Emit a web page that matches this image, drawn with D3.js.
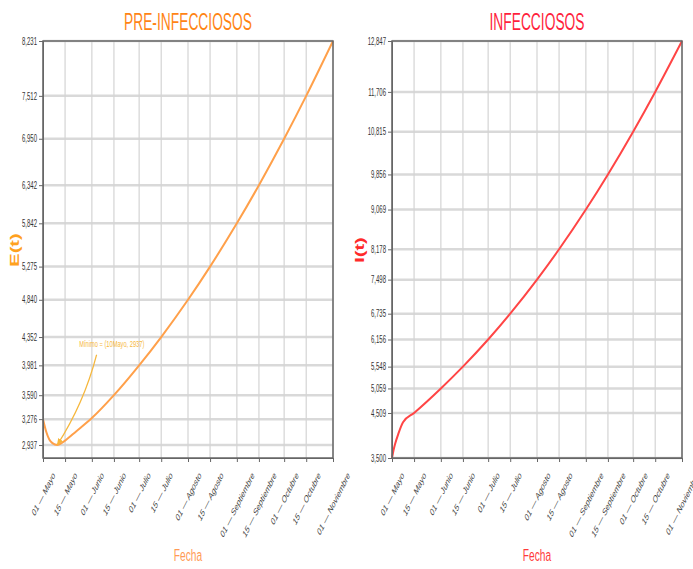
<!DOCTYPE html>
<html>
<head>
<meta charset="utf-8">
<script src="https://cdn.jsdelivr.net/npm/d3@7"></script>
<style>
  body { margin: 0; background: #fff; }
  text { font-family: "Liberation Sans", Arial, sans-serif; }
</style>
</head>
<body>
<svg id="plot"></svg>
<script>
// Fechas y etiquetas del eje x
var fechasTicks = ["2020-05-01","2020-05-15","2020-06-01","2020-06-15","2020-07-01","2020-07-15","2020-08-01","2020-08-15","2020-09-01","2020-09-15","2020-10-01","2020-10-15","2020-11-01"];
var etiquetasTicks = ["01 — Mayo","15 — Mayo","01 — Junio","15 — Junio","01 — Julio","15 — Julio","01 — Agosto","15 — Agosto","01 — Septiembre","15 — Septiembre","01 — Octubre","15 — Octubre","01 — Noviembre"];

// E(t): pre-infecciosos
var fechasE = ["2020-05-01","2020-05-03","2020-05-05","2020-05-07","2020-05-10","2020-05-12","2020-05-15","2020-05-22","2020-06-01","2020-06-15","2020-07-01","2020-07-15","2020-08-01","2020-08-15","2020-09-01","2020-09-15","2020-10-01","2020-10-15","2020-11-01"];
var valoresE = [3276,3115,3010,2962,2937,2952,2995,3115,3290,3590,3981,4352,4840,5275,5842,6342,6950,7512,8231];
var ticksE = [2937,3276,3590,3981,4352,4840,5275,5842,6342,6950,7512,8231];

// I(t): infecciosos
var fechasI = ["2020-05-01","2020-05-02","2020-05-03","2020-05-05","2020-05-08","2020-05-15","2020-06-01","2020-06-15","2020-07-01","2020-07-15","2020-08-01","2020-08-15","2020-09-01","2020-09-15","2020-10-01","2020-10-15","2020-11-01"];
var valoresI = [3500,3680,3820,4040,4300,4509,5059,5548,6156,6735,7498,8178,9069,9856,10815,11706,12847];
var ticksI = [3500,4509,5059,5548,6156,6735,7498,8178,9069,9856,10815,11706,12847];

// Anotacion del minimo
var minimo = { fecha: "2020-05-10", valor: 2937, texto: "Mínimo = (10Mayo, 2937)" };
var minimoTexto = { fecha: "2020-05-24", valor: 4225 };
var minimoFlecha = { fecha: "2020-06-04", valor: 4120 };

var width = 693, height = 569;
var top0 = 41, bottom0 = 458;
var k = 0.6; // texto comprimido horizontalmente
var parse = d3.utcParse("%Y-%m-%d");

var svg = d3.select('#plot')
  .attr('width', width)
  .attr('height', height);

var defs = svg.append('defs');
defs.append('marker')
  .attr('id', 'punta')
  .attr('viewBox', '0 0 10 10')
  .attr('refX', 9).attr('refY', 5)
  .attr('markerWidth', 6).attr('markerHeight', 6)
  .attr('orient', 'auto')
  .append('path')
  .attr('d', 'M0,1 L10,5 L0,9 Z')
  .attr('fill', '#f6b73c');

function narrow(sel, x, y) {
  sel.attr('transform', 'translate(' + x + ',' + y + ') scale(' + k + ',1)');
}

function panel(cfg) {
  var g = svg.append('g');

  var x = d3.scaleUtc()
    .domain([parse(fechasTicks[0]), parse(fechasTicks[fechasTicks.length - 1])])
    .range([cfg.left, cfg.right]);

  var y = d3.scaleLinear()
    .domain(cfg.domain)
    .range([bottom0, top0]);

  // Grid horizontal
  g.selectAll('.gh')
    .data(cfg.ticks)
    .enter().append('line')
      .attr('x1', cfg.left).attr('x2', cfg.right)
      .attr('y1', d => y(d)).attr('y2', d => y(d))
      .attr('stroke', '#d9d9d9')
      .attr('stroke-width', 2.5);

  // Grid vertical
  g.selectAll('.gv')
    .data(fechasTicks)
    .enter().append('line')
      .attr('x1', d => x(parse(d))).attr('x2', d => x(parse(d)))
      .attr('y1', top0).attr('y2', bottom0)
      .attr('stroke', '#d4d4d4')
      .attr('stroke-width', 1.2);

  // Curva
  var line = d3.line()
    .x((d, i) => x(parse(d)))
    .y((d, i) => y(cfg.values[i]))
    .curve(d3.curveMonotoneX);

  g.append('path')
    .attr('d', line(cfg.dates))
    .attr('fill', 'none')
    .attr('stroke', cfg.lineColor)
    .attr('stroke-width', 2);

  // Marco
  g.append('rect')
    .attr('x', cfg.left).attr('y', top0)
    .attr('width', cfg.right - cfg.left)
    .attr('height', bottom0 - top0)
    .attr('fill', 'none')
    .attr('stroke', '#666')
    .attr('stroke-width', 1.5);

  // Eje Y
  var ay = g.append('g')
    .attr('transform', 'translate(' + cfg.left + ',0)')
    .call(d3.axisLeft(y).tickValues(cfg.ticks).tickFormat(d3.format(',')).tickSize(4).tickSizeOuter(0));
  ay.select('.domain').attr('stroke', '#666');
  ay.selectAll('line').attr('stroke', '#666');
  ay.selectAll('text')
    .attr('x', -6 / k)
    .attr('transform', 'scale(' + k + ',1)')
    .style('font-size', '10px')
    .attr('fill', '#333');

  // Eje X
  var ax = g.append('g')
    .attr('transform', 'translate(0,' + bottom0 + ')')
    .call(d3.axisBottom(x).tickValues(fechasTicks.map(parse)).tickFormat((d, i) => etiquetasTicks[i]).tickSize(4).tickSizeOuter(0));
  ax.select('.domain').attr('stroke', '#666');
  ax.selectAll('line').attr('stroke', '#666');
  var ang = 50, fs = 10.5;
  ax.selectAll('text')
    .style('font-size', fs + 'px')
    .attr('fill', '#444')
    .attr('x', 0).attr('y', 0).attr('dy', '0.35em')
    .style('text-anchor', 'middle')
    .attr('transform', function() {
      var L = this.getComputedTextLength();
      var r = ang * Math.PI / 180;
      var cy = 12 + (L / 2) * Math.sin(r) + (fs / 2) * Math.cos(r);
      return 'translate(0,' + cy + ') scale(' + k + ',1) rotate(' + (-ang) + ')';
    });

  // Titulo
  var cx = (cfg.left + cfg.right) / 2;
  svg.append('text')
    .call(narrow, cx, 30)
    .attr('text-anchor', 'middle')
    .style('font-size', '23px')
    .attr('fill', cfg.titleColor)
    .text(cfg.title);

  // Etiqueta eje Y
  svg.append('text')
    .attr('transform', 'translate(' + cfg.yLabelX + ',250) scale(' + k + ',1) rotate(-90)')
    .attr('text-anchor', 'middle')
    .attr('dy', '0.35em')
    .style('font-size', '20px')
    .style('font-weight', 'bold')
    .attr('fill', cfg.yLabelColor)
    .text(cfg.yLabel);

  // Etiqueta eje X
  svg.append('text')
    .call(narrow, cx, 561)
    .attr('text-anchor', 'middle')
    .style('font-size', '17px')
    .attr('fill', cfg.xLabelColor)
    .text('Fecha');

  return { x: x, y: y, g: g };
}

var izq = panel({
  left: 43, right: 333, domain: [2767, 8231],
  dates: fechasE, values: valoresE, ticks: ticksE,
  lineColor: '#ffa04a', title: 'PRE-INFECCIOSOS', titleColor: '#ff8414',
  yLabel: 'E(t)', yLabelX: 15, yLabelColor: '#ffa11e', xLabelColor: '#ff9a55'
});

var der = panel({
  left: 392, right: 682, domain: [3500, 12847],
  dates: fechasI, values: valoresI, ticks: ticksI,
  lineColor: '#ff4545', title: 'INFECCIOSOS', titleColor: '#ff1f3d',
  yLabel: 'I(t)', yLabelX: 360, yLabelColor: '#ff2a2a', xLabelColor: '#ff3a3a'
});

// Anotacion del minimo
var px0 = izq.x(parse(minimoFlecha.fecha)), py0 = izq.y(minimoFlecha.valor);
var px1 = izq.x(parse(minimo.fecha)), py1 = izq.y(minimo.valor);
var mx = (px0 + px1) / 2, my = (py0 + py1) / 2;
var dx = px1 - px0, dy = py1 - py0;
var qx = mx + dy * 0.08, qy = my - dx * 0.08;

izq.g.append('path')
  .attr('d', 'M' + px0 + ',' + py0 + ' Q' + qx + ',' + qy + ' ' + px1 + ',' + py1)
  .attr('fill', 'none')
  .attr('stroke', '#f6b73c')
  .attr('stroke-width', 1.2)
  .attr('marker-end', 'url(#punta)');

izq.g.append('text')
  .call(narrow, izq.x(parse(minimoTexto.fecha)), izq.y(minimoTexto.valor))
  .style('font-size', '9.5px')
  .attr('fill', '#f6b73c')
  .text(minimo.texto);
</script>
</body>
</html>
